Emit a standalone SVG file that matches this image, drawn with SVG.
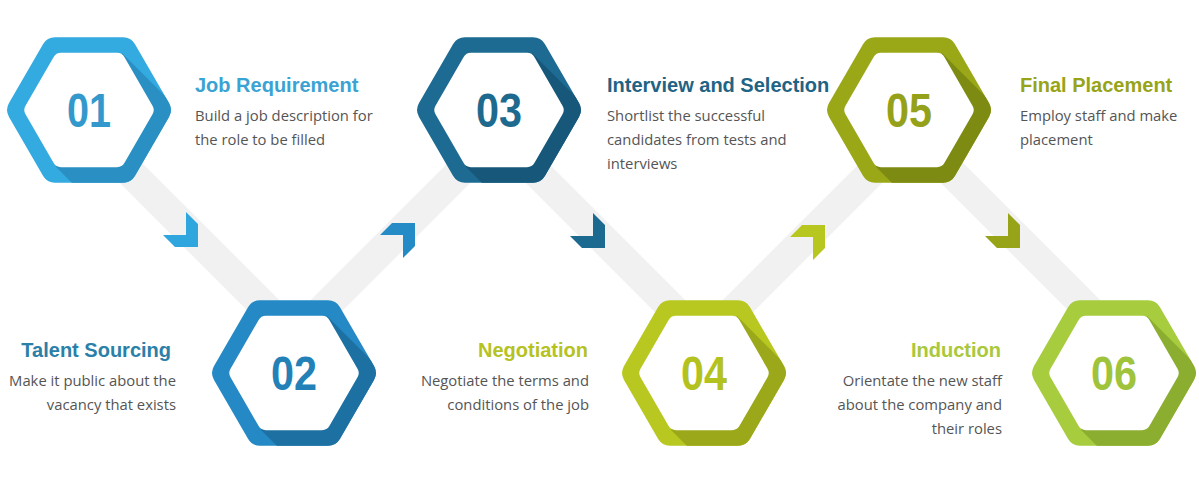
<svg xmlns="http://www.w3.org/2000/svg" xmlns:xlink="http://www.w3.org/1999/xlink" width="1199" height="490" viewBox="0 0 1199 490">
<style>
.title{font-family:"Liberation Sans",Arial,sans-serif;font-weight:bold;font-size:20px}
.body{font-family:"Open Sans","Liberation Sans",sans-serif;font-size:14.8px;fill:#555}
.num{font-family:"Liberation Sans",Arial,sans-serif;font-weight:bold;font-size:48px;text-anchor:middle}
.end{text-anchor:end}
.band{stroke:#f1f1f1;stroke-width:30;fill:none}
</style>
<defs>
<path id="hexO" d="M80,-6.93 Q84,0 80,6.93 L46,65.82 Q42,72.75 34,72.75 L-34,72.75 Q-42,72.75 -46,65.82 L-80,6.93 Q-84,0 -80,-6.93 L-46,-65.82 Q-42,-72.75 -34,-72.75 L34,-72.75 Q42,-72.75 46,-65.82 Z"/>
<path id="hexI" d="M63.5,-4.33 Q66,0 63.5,4.33 L35.5,52.83 Q33,57.16 28,57.16 L-28,57.16 Q-33,57.16 -35.5,52.83 L-63.5,4.33 Q-66,0 -63.5,-4.33 L-35.5,-52.83 Q-33,-57.16 -28,-57.16 L28,-57.16 Q33,-57.16 35.5,-52.83 Z"/>
<clipPath id="clipO"><use xlink:href="#hexO"/></clipPath>
<polygon id="shade" points="33,-57 233,143 167,257 -33,57"/>
</defs>
<rect width="1199" height="490" fill="#fff"/>
<g id="connectors">
<line class="band" x1="105" y1="147" x2="300" y2="342"/>
<line class="band" x1="282" y1="350" x2="477" y2="155"/>
<line class="band" x1="515" y1="151" x2="710" y2="346"/>
<line class="band" x1="692" y1="352" x2="887" y2="157"/>
<line class="band" x1="925" y1="146" x2="1120" y2="341"/>
<polygon fill="#2fa6dd" points="186,212 198,224 198,247 175,247 163,235 186,235"/>
<polygon fill="#248bc6" points="415,223 415,246 403,258 403,235 380,235 392,223"/>
<polygon fill="#1d6a91" points="593,213 605,225 605,248 582,248 570,236 593,236"/>
<polygon fill="#b8c71f" points="825,225 825,248 813,260 813,237 790,237 802,225"/>
<polygon fill="#97a417" points="1008,213 1020,225 1020,248 997,248 985,236 1008,236"/>
</g>
<g id="step1">
<g transform="translate(89,110)">
<use xlink:href="#hexO" fill="#33aae0"/>
<use xlink:href="#shade" fill="#2a8fc2" clip-path="url(#clipO)"/>
<use xlink:href="#hexI" fill="#fff"/>
<text class="num" x="0" y="17" fill="#3399cc" textLength="44" lengthAdjust="spacingAndGlyphs">01</text>
</g>
<text class="title" x="195" y="92" fill="#3ba3d3">Job Requirement</text>
<text class="body" x="195" y="121">Build a job description for</text>
<text class="body" x="195" y="145">the role to be filled</text>
</g>
<g id="step2">
<g transform="translate(294,373)">
<use xlink:href="#hexO" fill="#2489c5"/>
<use xlink:href="#shade" fill="#1d71a2" clip-path="url(#clipO)"/>
<use xlink:href="#hexI" fill="#fff"/>
<text class="num" x="0" y="17" fill="#2481b8" textLength="46" lengthAdjust="spacingAndGlyphs">02</text>
</g>
<text class="title end" x="171" y="357" fill="#2b80a8">Talent Sourcing</text>
<text class="body end" x="176" y="386">Make it public about the</text>
<text class="body end" x="176" y="410">vacancy that exists</text>
</g>
<g id="step3">
<g transform="translate(499,110)">
<use xlink:href="#hexO" fill="#1d6b92"/>
<use xlink:href="#shade" fill="#17587a" clip-path="url(#clipO)"/>
<use xlink:href="#hexI" fill="#fff"/>
<text class="num" x="0" y="17" fill="#1e6a8f" textLength="46" lengthAdjust="spacingAndGlyphs">03</text>
</g>
<text class="title" x="607" y="92" fill="#1f6484">Interview and Selection</text>
<text class="body" x="607" y="121">Shortlist the successful</text>
<text class="body" x="607" y="145">candidates from tests and</text>
<text class="body" x="607" y="169">interviews</text>
</g>
<g id="step4">
<g transform="translate(704,373)">
<use xlink:href="#hexO" fill="#b8c820"/>
<use xlink:href="#shade" fill="#9aa81a" clip-path="url(#clipO)"/>
<use xlink:href="#hexI" fill="#fff"/>
<text class="num" x="0" y="17" fill="#b3c21e" textLength="46" lengthAdjust="spacingAndGlyphs">04</text>
</g>
<text class="title end" x="588" y="357" fill="#b5c21f">Negotiation</text>
<text class="body end" x="589" y="386">Negotiate the terms and</text>
<text class="body end" x="589" y="410">conditions of the job</text>
</g>
<g id="step5">
<g transform="translate(909,110)">
<use xlink:href="#hexO" fill="#9aa818"/>
<use xlink:href="#shade" fill="#7e8b12" clip-path="url(#clipO)"/>
<use xlink:href="#hexI" fill="#fff"/>
<text class="num" x="0" y="17" fill="#95a219" textLength="46" lengthAdjust="spacingAndGlyphs">05</text>
</g>
<text class="title" x="1020" y="92" fill="#98a418">Final Placement</text>
<text class="body" x="1020" y="121">Employ staff and make</text>
<text class="body" x="1020" y="145">placement</text>
</g>
<g id="step6">
<g transform="translate(1114,373)">
<use xlink:href="#hexO" fill="#a7cd3f"/>
<use xlink:href="#shade" fill="#8bad30" clip-path="url(#clipO)"/>
<use xlink:href="#hexI" fill="#fff"/>
<text class="num" x="0" y="17" fill="#9fc43c" textLength="46" lengthAdjust="spacingAndGlyphs">06</text>
</g>
<text class="title end" x="1001" y="357" fill="#a9c83b">Induction</text>
<text class="body end" x="1002" y="386">Orientate the new staff</text>
<text class="body end" x="1002" y="410">about the company and</text>
<text class="body end" x="1002" y="434">their roles</text>
</g>
</svg>
